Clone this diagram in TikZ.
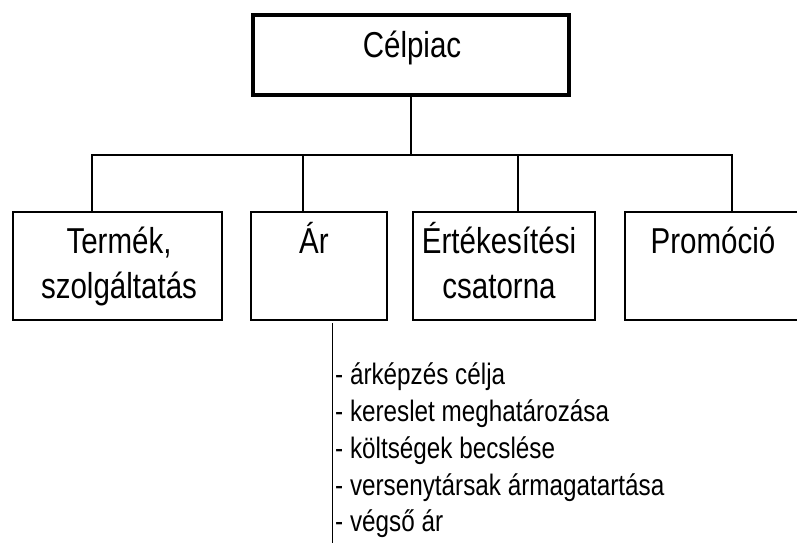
\documentclass[tikz,border=0pt]{standalone}
\usepackage{fontspec}
\setmainfont{Liberation Sans}[FakeStretch=0.82]

\begin{document}
\begin{tikzpicture}[x=1pt, y=-1pt,
	box/.style={draw, rectangle, line width=2.8pt, inner sep=0pt},
	label text/.style={anchor=base, align=center, inner sep=0pt, font=\fontsize{36}{45}\selectfont},
	link/.style={line width=2.8pt, line join=miter}]
\clip (0,0) rectangle (797,542);

\node [box, line width=4pt, minimum width=316pt, minimum height=80pt] (celpiac) at (411,55) {};
\node [label text] (celpiac-t) at (412,57) {Célpiac};

\foreach \x/\w/\bx/\tx/\ty/\name/\txt in {
		117.5/209/92/119/298/termek/{Termék,\\szolgáltatás},
		319/136/303/314/253/ar/Ár,
		504/182/518/499/298/csatorna/{Értékesítési\\csatorna},
		717.5/185/732/717/253/promocio/Promóció
	}
	{
		\node [box, minimum width=\w pt, minimum height=108pt] (\name) at (\x,266) {};
		\node [label text] (\name-t) at (\tx,\ty) {\txt};
		\coordinate (\name-top) at (\bx,155);
	}

\draw [link] (termek-top |- termek.north) -- (termek-top) -- (promocio-top) -- (promocio-top |- promocio.north);
\draw [link] (ar-top) -- (ar-top |- ar.north);
\draw [link] (csatorna-top) -- (csatorna-top |- csatorna.north);
\draw [link] (celpiac.south) -- (celpiac.south |- termek-top);

\draw [line width=0.9pt] ([xshift=13pt,yshift=-2pt]ar.south) -- ++(0,222);
\node [anchor=base west, align=left, inner sep=0pt, font=\fontsize{29.6}{36.7}\selectfont] (steps) at (335,531.7)
	{- árképzés célja\\- kereslet meghatározása\\- költségek becslése\\- versenytársak ármagatartása\\- végső ár};
\end{tikzpicture}
\end{document}
